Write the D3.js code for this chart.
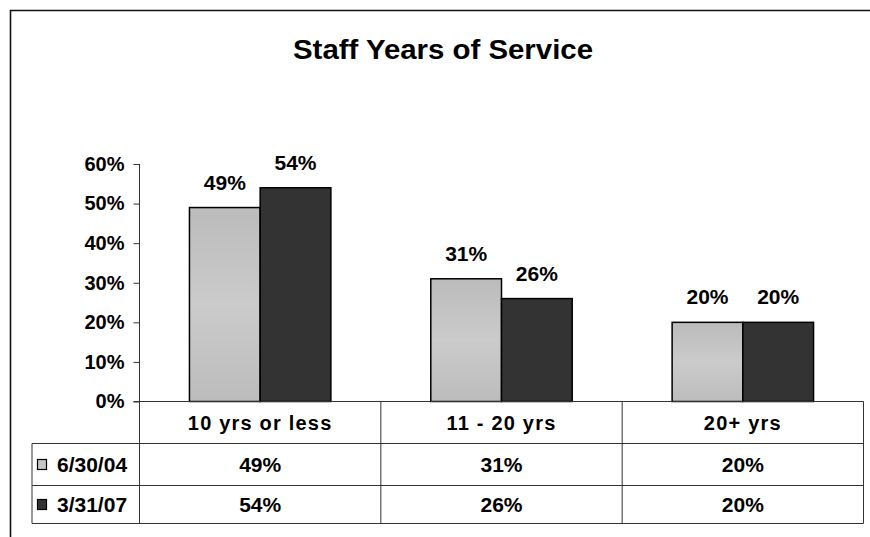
<!DOCTYPE html>
<html>
<head>
<meta charset="utf-8">
<script src="https://cdn.jsdelivr.net/npm/d3@7"></script>
<style>
  html, body { margin: 0; padding: 0; background: #fff; }
  svg { display: block; }
  text { font-family: "Liberation Sans", Arial, sans-serif; font-weight: bold; fill: #000; }
</style>
</head>
<body>
<svg id="chart" width="870" height="537"></svg>
<script>
// Chart data
const title = "Staff Years of Service";
const categories = ["10 yrs or less", "11 - 20 yrs", "20+ yrs"];
const seriesNames = ["6/30/04", "3/31/07"];
const values2004 = [0.49, 0.31, 0.20];
const values2007 = [0.54, 0.26, 0.20];
const yTicks = [0, 0.1, 0.2, 0.3, 0.4, 0.5, 0.6];

const series = [
  { name: seriesNames[0], values: values2004, fill: "url(#lightGrad)", key: "#c6c6c6" },
  { name: seriesNames[1], values: values2007, fill: "#333333", key: "#333333" }
];

const svg = d3.select("#chart");

// Vertical gradient for the light bars
const defs = svg.append("defs");
const grad = defs.append("linearGradient")
  .attr("id", "lightGrad").attr("x1", 0).attr("y1", 0).attr("x2", 0).attr("y2", 1);
grad.append("stop").attr("offset", "0%").attr("stop-color", "#bbbbbb");
grad.append("stop").attr("offset", "50%").attr("stop-color", "#cbcbcb");
grad.append("stop").attr("offset", "100%").attr("stop-color", "#bcbcbc");

// Outer frame (open at the right and bottom edges of the page)
svg.append("path")
  .attr("d", "M10.5,537 V10.5 H870")
  .attr("fill", "none").attr("stroke", "#111").attr("stroke-width", 1.6);

// Title
svg.append("text")
  .attr("x", 443).attr("y", 59)
  .attr("text-anchor", "middle")
  .attr("font-size", 28)
  .attr("textLength", 300)
  .attr("lengthAdjust", "spacingAndGlyphs")
  .text(title);

// Plot geometry
const plotLeft = 139.5, plotRight = 863.5;
const plotTop = 164, plotBottom = 401.5;
const rowLines = [401.5, 443.5, 485.5, 523.5];
const tableLeft = 32;

const x0 = d3.scaleBand().domain(categories).range([plotLeft, plotRight]).padding(0);
const bw = x0.bandwidth();
const x1 = d3.scaleBand().domain(seriesNames).range([bw * 0.207, bw * 0.793]).padding(0);
const y = d3.scaleLinear().domain([0, 0.6]).range([plotBottom, plotTop]);
const pct = d3.format(".0%");

// Y axis
const yAxis = svg.append("g")
  .attr("transform", `translate(${plotLeft},0)`)
  .call(d3.axisLeft(y).tickValues(yTicks).tickFormat(pct).tickSize(6).tickPadding(9));
yAxis.select(".domain").remove();
yAxis.selectAll(".tick line").attr("stroke", "#333");
yAxis.selectAll(".tick text")
  .attr("font-size", 20)
  .attr("font-family", "'Liberation Sans', Arial, sans-serif")
  .attr("font-weight", "bold")
  .attr("fill", "#000");

// Bars
const groups = svg.append("g").selectAll("g")
  .data(series).join("g");

groups.selectAll("rect")
  .data(s => s.values.map((v, i) => ({ v, cat: categories[i], s })))
  .join("rect")
  .attr("x", d => x0(d.cat) + x1(d.s.name))
  .attr("y", d => y(d.v))
  .attr("width", x1.bandwidth())
  .attr("height", d => y(0) - y(d.v))
  .attr("fill", d => d.s.fill)
  .attr("stroke", "#000")
  .attr("stroke-width", 1.5);

// Value labels above bars
groups.selectAll("text.val")
  .data(s => s.values.map((v, i) => ({ v, cat: categories[i], s })))
  .join("text")
  .attr("class", "val")
  .attr("x", d => x0(d.cat) + x1(d.s.name) + x1.bandwidth() / 2)
  .attr("y", d => y(d.v) - 18)
  .attr("text-anchor", "middle")
  .attr("font-size", 21)
  .text(d => pct(d.v));

// Data table grid
const grid = svg.append("g").attr("stroke", "#333").attr("stroke-width", 1).attr("fill", "none");
// axis line across the plot
grid.append("line").attr("x1", plotLeft - 6).attr("x2", plotRight).attr("y1", rowLines[0]).attr("y2", rowLines[0]);
// vertical axis line running through the table
grid.append("line").attr("x1", plotLeft).attr("x2", plotLeft).attr("y1", plotTop).attr("y2", rowLines[3]);
// horizontal row lines
rowLines.slice(1).forEach(ry => {
  grid.append("line").attr("x1", tableLeft).attr("x2", plotRight).attr("y1", ry).attr("y2", ry);
});
// left edge of legend column
grid.append("line").attr("x1", tableLeft).attr("x2", tableLeft).attr("y1", rowLines[1]).attr("y2", rowLines[3]);
// column separators and right edge
categories.forEach(c => {
  const xr = x0(c) + bw;
  grid.append("line").attr("x1", xr).attr("x2", xr).attr("y1", rowLines[0]).attr("y2", rowLines[3]);
});

// Category labels in the table header row
svg.append("g").selectAll("text")
  .data(categories).join("text")
  .attr("x", c => x0(c) + bw / 2)
  .attr("y", (rowLines[0] + rowLines[1]) / 2 + 7)
  .attr("text-anchor", "middle")
  .attr("font-size", 20)
  .attr("letter-spacing", 1.2)
  .text(c => c);

// Table value rows with legend keys
series.forEach((s, si) => {
  const top = rowLines[si + 1], bot = rowLines[si + 2];
  const mid = (top + bot) / 2;
  svg.append("rect")
    .attr("x", 37.5).attr("y", mid - 5)
    .attr("width", 9).attr("height", 10)
    .attr("fill", s.key).attr("stroke", "#000").attr("stroke-width", 1.2);
  svg.append("text")
    .attr("x", 57).attr("y", mid + 7)
    .attr("font-size", 21)
    .text(s.name);
  svg.append("g").selectAll("text")
    .data(s.values).join("text")
    .attr("x", (v, i) => x0(categories[i]) + bw / 2)
    .attr("y", mid + 7)
    .attr("text-anchor", "middle")
    .attr("font-size", 21)
    .text(v => pct(v));
});
</script>
</body>
</html>
